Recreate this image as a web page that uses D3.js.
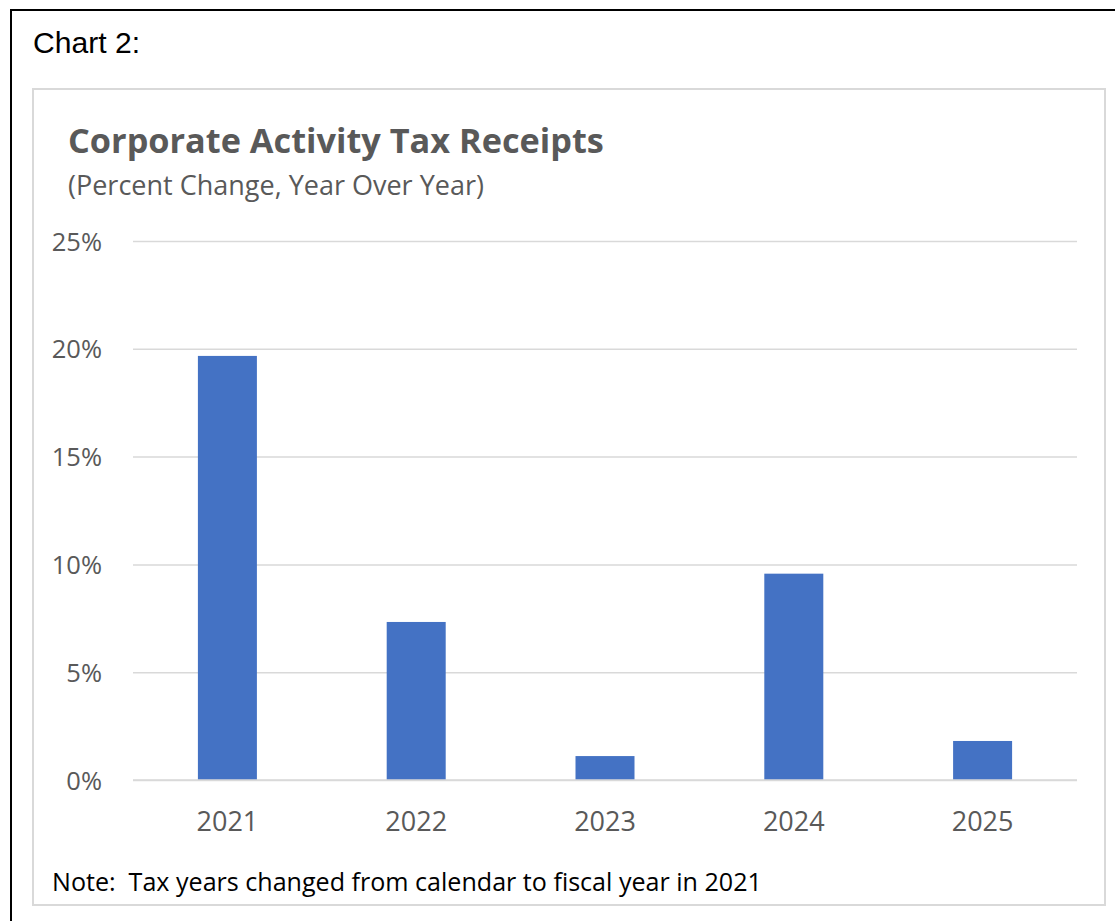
<!DOCTYPE html>
<html>
<head>
<meta charset="utf-8">
<script src="https://cdn.jsdelivr.net/npm/d3@7"></script>
<style>
  html, body { margin: 0; padding: 0; background: #fff; }
  svg { display: block; }
</style>
</head>
<body>
<svg id="chart" width="1115" height="921"></svg>
<script>
const years = ['2021', '2022', '2023', '2024', '2025']
const pctChange = [19.67, 7.33, 1.11, 9.57, 1.81]
const yTicks = [0, 5, 10, 15, 20, 25]

const font = '"Open Sans", "Noto Sans", sans-serif'
const grey = '#595959'

const svg = d3.select('#chart')

// outer frame (runs off the page on the right and bottom)
svg.append('rect')
  .attr('x', 11).attr('y', 10)
  .attr('width', 1200).attr('height', 1000)
  .attr('fill', 'none').attr('stroke', '#000').attr('stroke-width', 2)

// chart area frame
svg.append('rect')
  .attr('x', 33).attr('y', 89)
  .attr('width', 1072).attr('height', 816)
  .attr('fill', '#fff').attr('stroke', '#d9d9d9').attr('stroke-width', 2)

// shrink / grow a text until it spans the wanted width
function fit (sel, w) {
  const node = sel.node()
  let fs = parseFloat(sel.attr('font-size'))
  const len = node.getComputedTextLength()
  sel.attr('font-size', (fs * w / len).toFixed(2))
}

svg.append('text')
  .attr('x', 33).attr('y', 53)
  .attr('font-family', '"Liberation Sans", Arial, sans-serif')
  .attr('font-size', 28).attr('fill', '#000')
  .text('Chart 2:')
  .call(fit, 107)

svg.append('text')
  .attr('x', 68).attr('y', 153)
  .attr('font-family', font).attr('font-weight', 'bold')
  .attr('font-size', 30).attr('fill', grey)
  .text('Corporate Activity Tax Receipts')
  .call(fit, 536)

svg.append('text')
  .attr('x', 68).attr('y', 195)
  .attr('font-family', font)
  .attr('font-size', 22).attr('fill', grey)
  .text('(Percent Change, Year Over Year)')
  .call(fit, 416)

svg.append('text')
  .attr('x', 52).attr('y', 891)
  .attr('font-family', font)
  .attr('font-size', 22).attr('fill', '#000')
  .style('white-space', 'pre')
  .text('Note:  Tax years changed from calendar to fiscal year in 2021')
  .call(fit, 710)

const x = d3.scaleBand()
  .domain(years)
  .range([133, 1077])
  .paddingInner(0.6875)
  .paddingOuter(0.34375)

const y = d3.scaleLinear()
  .domain([0, 25])
  .range([780, 241])

// gridlines + y labels
const yAxis = svg.append('g')
  .attr('transform', 'translate(133,0)')
  .call(d3.axisLeft(y).tickValues(yTicks).tickFormat(d => d + '%')
    .tickSize(-944).tickPadding(31))
yAxis.select('.domain').remove()
yAxis.selectAll('line').attr('stroke', '#d9d9d9').attr('stroke-width', 1.5)
yAxis.selectAll('text')
  .attr('font-family', font).attr('font-size', 25.5).attr('fill', grey)
  .attr('dy', '0.36em')

// bars
svg.append('g')
  .selectAll('rect')
  .data(years.map((yr, i) => ({ yr, v: pctChange[i] })))
  .join('rect')
  .attr('x', d => x(d.yr))
  .attr('width', x.bandwidth())
  .attr('y', d => y(d.v))
  .attr('height', d => y(0) - y(d.v))
  .attr('fill', '#4472c4')

// redraw the 0% line on top of bars
svg.append('line')
  .attr('x1', 133).attr('x2', 1077)
  .attr('y1', y(0)).attr('y2', y(0))
  .attr('stroke', '#d9d9d9').attr('stroke-width', 1.5)

const xAxis = svg.append('g')
  .attr('transform', `translate(0,${y(0)})`)
  .call(d3.axisBottom(x).tickSize(0).tickPadding(32))
xAxis.select('.domain').remove()
xAxis.selectAll('text')
  .attr('font-family', font).attr('font-size', 27).attr('fill', grey)
</script>
</body>
</html>
